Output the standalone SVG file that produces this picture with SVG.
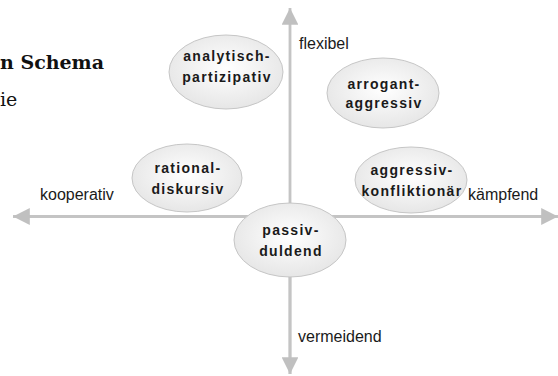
<svg xmlns="http://www.w3.org/2000/svg" width="558" height="376" viewBox="0 0 558 376">
<defs>
<radialGradient id="g" cx="50%" cy="45%" r="60%">
<stop offset="0" stop-color="#ffffff"/>
<stop offset="1" stop-color="#e4e4e4"/>
</radialGradient>
<marker id="ah" viewBox="0 0 10 10" refX="10" refY="5" markerWidth="6" markerHeight="6" markerUnits="strokeWidth" orient="auto">
<path d="M0,0 L10,5 L0,10 z" fill="#c0c0c0"/>
</marker>
</defs>
<style>
.node ellipse{fill:url(#g);stroke:#c6c6c6;stroke-width:1}
.node text{font-family:"Liberation Sans",Arial,sans-serif;font-weight:bold;font-size:14px;letter-spacing:1.3px;fill:#1a1a1a;text-anchor:middle}
.lbl{font-family:"Liberation Sans",Arial,sans-serif;font-size:16px;fill:#1a1a1a}
.axis{stroke:#c4c4c4;stroke-width:2.8;fill:none}
.title{font-family:"DejaVu Serif","Liberation Serif",serif;font-size:19px;fill:#111}
</style>
<text class="title" x="0" y="69" font-weight="bold">n Schema</text>
<text class="title" x="0" y="106">ie</text>
<g id="connectors">
<line class="axis" x1="290" y1="374" x2="290" y2="8" marker-end="url(#ah)"/>
<line class="axis" x1="290" y1="216.5" x2="290" y2="374" marker-end="url(#ah)"/>
<line class="axis" x1="290" y1="216.5" x2="13" y2="216.5" marker-end="url(#ah)"/>
<line class="axis" x1="290" y1="216.5" x2="558" y2="216.5" marker-end="url(#ah)"/>
</g>
<text class="lbl" x="299" y="49">flexibel</text>
<text class="lbl" x="40" y="200">kooperativ</text>
<text class="lbl" x="468" y="200">kämpfend</text>
<text class="lbl" x="298" y="342">vermeidend</text>
<g id="analytisch" class="node">
<ellipse cx="226" cy="72" rx="57" ry="37"/>
<text x="227" y="61">analytisch-</text>
<text x="227" y="82">partizipativ</text>
</g>
<g id="arrogant" class="node">
<ellipse cx="383" cy="93" rx="56" ry="35"/>
<text x="384" y="89">arrogant-</text>
<text x="384" y="108">aggressiv</text>
</g>
<g id="rational" class="node">
<ellipse cx="187" cy="178" rx="55" ry="34"/>
<text x="188" y="173">rational-</text>
<text x="188" y="194">diskursiv</text>
</g>
<g id="aggressiv" class="node">
<ellipse cx="411" cy="180" rx="56" ry="33"/>
<text x="412" y="175">aggressiv-</text>
<text x="412" y="196">konfliktionär</text>
</g>
<g id="passiv" class="node">
<ellipse cx="290" cy="240" rx="56" ry="37"/>
<text x="291" y="235">passiv-</text>
<text x="291" y="256">duldend</text>
</g>
</svg>
